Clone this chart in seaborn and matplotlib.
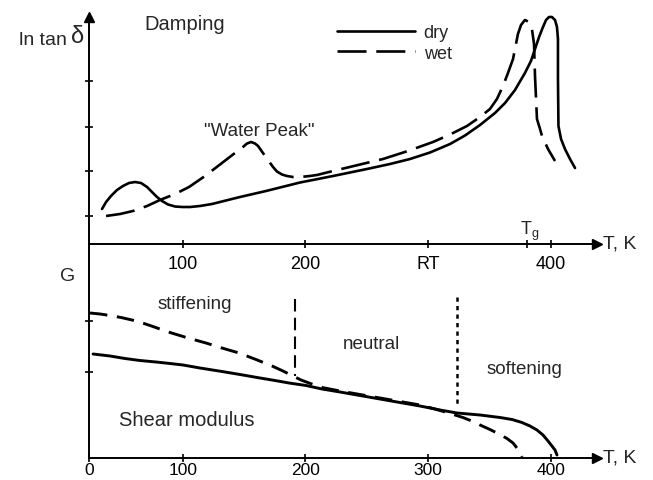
import matplotlib
matplotlib.use("Agg")
import matplotlib.pyplot as plt
import numpy as np
import pandas as pd
import seaborn as sns

# ---------------- data (temperature T in K, arbitrary ordinate units) ----------------
# Damping, ln tan(delta)
dry_T = [34.3, 37.6, 41.6, 46.5, 51.4, 56.3, 61.2, 66.1, 71.0, 75.0, 79.1, 83.2,
         88.1, 93.8, 99.5, 106.0, 114.1, 123.9, 132.0, 146.7, 167.9, 195.6, 222.5,
         250.1, 268.9, 285.2, 301.5, 317.8, 330.0, 342.2, 354.4, 362.6, 370.7,
         378.8, 383.7, 387.0, 390.3, 393.5, 396.0, 398.4, 400.8, 403.3, 404.9,
         405.7, 405.7, 406.1, 408.2, 411.4, 415.5, 419.6]
dry_lnt = [3.5, 4.2, 4.8, 5.4, 5.8, 6.1, 6.2, 6.1, 5.7, 5.2, 4.7, 4.3,
           3.95, 3.75, 3.7, 3.7, 3.8, 4.0, 4.25, 4.7, 5.3, 6.15, 6.8,
           7.5, 8.0, 8.5, 9.15, 10.0, 10.85, 11.9, 13.1, 14.1, 15.4,
           17.1, 18.3, 19.5, 20.7, 21.7, 22.4, 22.7, 22.7, 22.4, 21.7,
           20.5, 16.5, 11.8, 10.5, 9.5, 8.5, 7.6]
wet_T = [37.6, 49.0, 59.5, 71.0, 81.5, 93.8, 105.2, 118.2, 132.0, 142.6, 149.1,
         152.4, 155.7, 158.9, 161.4, 165.4, 169.5, 173.6, 176.8, 180.9, 185.0,
         189.9, 195.6, 203.7, 209.4, 222.5, 242.8, 263.2, 283.5, 303.9, 317.8,
         331.6, 342.2, 350.3, 356.0, 360.9, 365.0, 369.1, 371.5, 373.1, 375.6,
         378.8, 382.1, 384.5, 386.2, 387.0, 388.6, 391.1, 392.7, 397.6, 403.3]
wet_lnt = [2.8, 3.0, 3.3, 3.8, 4.4, 5.0, 5.7, 6.8, 8.1, 9.1, 9.7,
           10.05, 10.2, 10.05, 9.8, 9.1, 8.4, 7.7, 7.25, 6.95, 6.8,
           6.7, 6.7, 6.8, 6.9, 7.3, 7.9, 8.5, 9.3, 10.2, 10.95,
           11.8, 12.7, 13.5, 14.5, 15.8, 17.1, 18.5, 20.0, 21.0, 21.9,
           22.4, 22.2, 21.5, 20.0, 16.8, 12.5, 11.5, 10.8, 9.5, 8.3]

# Shear modulus G
dryG_T = [27.0, 40.8, 53.0, 65.2, 78.3, 89.7, 100.3, 114.1, 132.0, 146.7, 163.0,
          175.2, 186.6, 200.5, 213.5, 228.2, 244.4, 260.7, 277.0, 293.3, 309.6,
          323.5, 342.2, 358.5, 368.3, 376.4, 382.9, 388.6, 393.5, 397.6, 400.8,
          403.3, 404.9]
dryG = [10.4, 10.2, 9.95, 9.75, 9.6, 9.45, 9.3, 9.0, 8.65, 8.35, 8.0,
        7.75, 7.5, 7.25, 6.9, 6.6, 6.25, 5.9, 5.55, 5.2, 4.8,
        4.5, 4.3, 4.05, 3.85, 3.55, 3.2, 2.8, 2.3, 1.7, 1.2,
        0.8, 0.3]
wetG_T = [24.5, 32.7, 40.8, 49.8, 58.7, 66.1, 73.4, 81.5, 89.7, 104.3, 119.0,
          132.0, 145.9, 159.7, 172.8, 181.7, 189.9, 196.4, 202.9, 213.5, 228.2,
          244.4, 260.7, 277.0, 293.3, 305.5, 315.3, 328.3, 336.5, 342.2, 350.3,
          358.5, 364.2, 369.1, 372.3, 374.8, 376.4]
wetG = [14.5, 14.4, 14.25, 14.05, 13.8, 13.55, 13.25, 12.9, 12.55, 12.0, 11.5,
        11.0, 10.5, 9.85, 9.2, 8.7, 8.2, 7.8, 7.5, 7.05, 6.7,
        6.35, 6.0, 5.65, 5.3, 4.9, 4.55, 4.05, 3.65, 3.3, 2.85,
        2.35, 1.95, 1.5, 1.0, 0.6, 0.1]

# region borders in the G panel
stiff_T, stiff_G = [191.5, 191.5], [15.9, 8.2]
soft_T, soft_G = [323.4, 323.4], [16.1, 5.2]

top_ticks = [100, 200, 300, 380.5, 400]
top_ticklabels = ["100", "200", "RT", "", "400"]
bot_ticks = [23.7, 100, 200, 300, 400]
bot_ticklabels = ["0", "100", "200", "300", "400"]
top_yticks = [2.8, 7.3, 11.7, 16.3]
bot_yticks = [8.6, 13.7]

# ---------------- figure ----------------
sns.set_style("ticks")
plt.rcParams["font.family"] = ["Liberation Sans", "DejaVu Sans"]
plt.rcParams["mathtext.fontset"] = "custom"
plt.rcParams["mathtext.rm"] = "Liberation Sans"
plt.rcParams["mathtext.it"] = "Liberation Sans:italic"

W, H = 653, 481
fig = plt.figure(figsize=(W / 100, H / 100), dpi=100)


def fx(px):
    return px / W


def fy(py):
    return 1 - py / H


ax_top = fig.add_axes([fx(89), fy(245), fx(597) - fx(89), fy(18) - fy(245)])
ax_bot = fig.add_axes([fx(89), fy(459), fx(597) - fx(89), fy(245) - fy(459)])

df_top = pd.concat([
    pd.DataFrame({"T": dry_T, "v": dry_lnt, "state": "dry"}),
    pd.DataFrame({"T": wet_T, "v": wet_lnt, "state": "wet"}),
], ignore_index=True)
df_bot = pd.concat([
    pd.DataFrame({"T": dryG_T, "v": dryG, "state": "dry"}),
    pd.DataFrame({"T": wetG_T, "v": wetG, "state": "wet"}),
], ignore_index=True)

sns.lineplot(data=df_top, x="T", y="v", hue="state", style="state",
             palette={"dry": "black", "wet": "black"},
             dashes={"dry": "", "wet": (11, 3.7)},
             sort=False, estimator=None, lw=1.9, legend=False, ax=ax_top)
sns.lineplot(data=df_bot, x="T", y="v", hue="state", style="state",
             palette={"dry": "black", "wet": "black"},
             dashes={"dry": "", "wet": (6, 3.3)},
             sort=False, estimator=None, lw=2.1, legend=False, ax=ax_bot)
for ln in ax_top.lines + ax_bot.lines:
    ln.set_clip_on(False)
    ln.set_solid_capstyle("round")
    ln.set_solid_joinstyle("round")

handles = list(ax_top.lines[:2])
ax_top.legend(handles=handles, labels=["dry", "wet"], loc="upper left",
              bbox_to_anchor=(fx(337), fy(25)), bbox_transform=fig.transFigure,
              frameon=False, fontsize=13, handlelength=4.3, handletextpad=0.5,
              labelspacing=0.2, borderpad=0, borderaxespad=0)

ax_bot.plot(stiff_T, stiff_G, color="black", lw=1.5, dashes=(6, 3))
ax_bot.plot(soft_T, soft_G, color="black", lw=1.8, dashes=(1.7, 1.7))

for ax, ylim in ((ax_top, 22.7), (ax_bot, 21.4)):
    ax.set_xlim(23.7, 437.5)
    ax.set_ylim(0, ylim)
    ax.set_xlabel("")
    ax.set_ylabel("")
    for s in ("top", "right"):
        ax.spines[s].set_visible(False)
    for s in ("left", "bottom"):
        ax.spines[s].set_linewidth(1.4)
        ax.spines[s].set_color("black")
    ax.tick_params(direction="inout", length=6, width=1.2, labelsize=13,
                   pad=5, colors="black")
    ax.patch.set_alpha(0)

ax_bot.tick_params(axis="x", pad=0, labelsize=12.5)

ax_top.set_xticks(top_ticks, top_ticklabels)
ax_top.set_yticks(top_yticks, [])
ax_bot.set_xticks(bot_ticks, bot_ticklabels)
ax_bot.set_yticks(bot_yticks, [])

# axis arrows
ax_top.plot([0], [1], marker="^", color="black", ms=7, transform=ax_top.transAxes, clip_on=False)
ax_top.plot([1], [0], marker=">", color="black", ms=7, transform=ax_top.transAxes, clip_on=False)
ax_bot.plot([1], [0], marker=">", color="black", ms=7, transform=ax_bot.transAxes, clip_on=False)

# texts
fig.text(fx(67), fy(41), "ln tan", fontsize=14, ha="right", va="center")
fig.text(fx(71), fy(37), "δ", fontsize=17, ha="left", va="center")
fig.text(fx(185), fy(25), "Damping", fontsize=14.5, ha="center", va="center")
fig.text(fx(259), fy(131), "\"Water Peak\"", fontsize=13.5, ha="center", va="center")
fig.text(fx(520), fy(231), r"T$_\mathrm{g}$", fontsize=13, ha="left", va="center")
fig.text(fx(603), fy(244), "T, K", fontsize=14, ha="left", va="center")
fig.text(fx(603), fy(458), "T, K", fontsize=14, ha="left", va="center")
fig.text(fx(68), fy(277), "G", fontsize=14, ha="center", va="center")
fig.text(fx(195), fy(305), "stiffening", fontsize=13.5, ha="center", va="center")
fig.text(fx(371), fy(345), "neutral", fontsize=13.5, ha="center", va="center")
fig.text(fx(524), fy(370), "softening", fontsize=13.5, ha="center", va="center")
fig.text(fx(187), fy(421), "Shear modulus", fontsize=14.5, ha="center", va="center")

fig.savefig("out.png", dpi=100)
